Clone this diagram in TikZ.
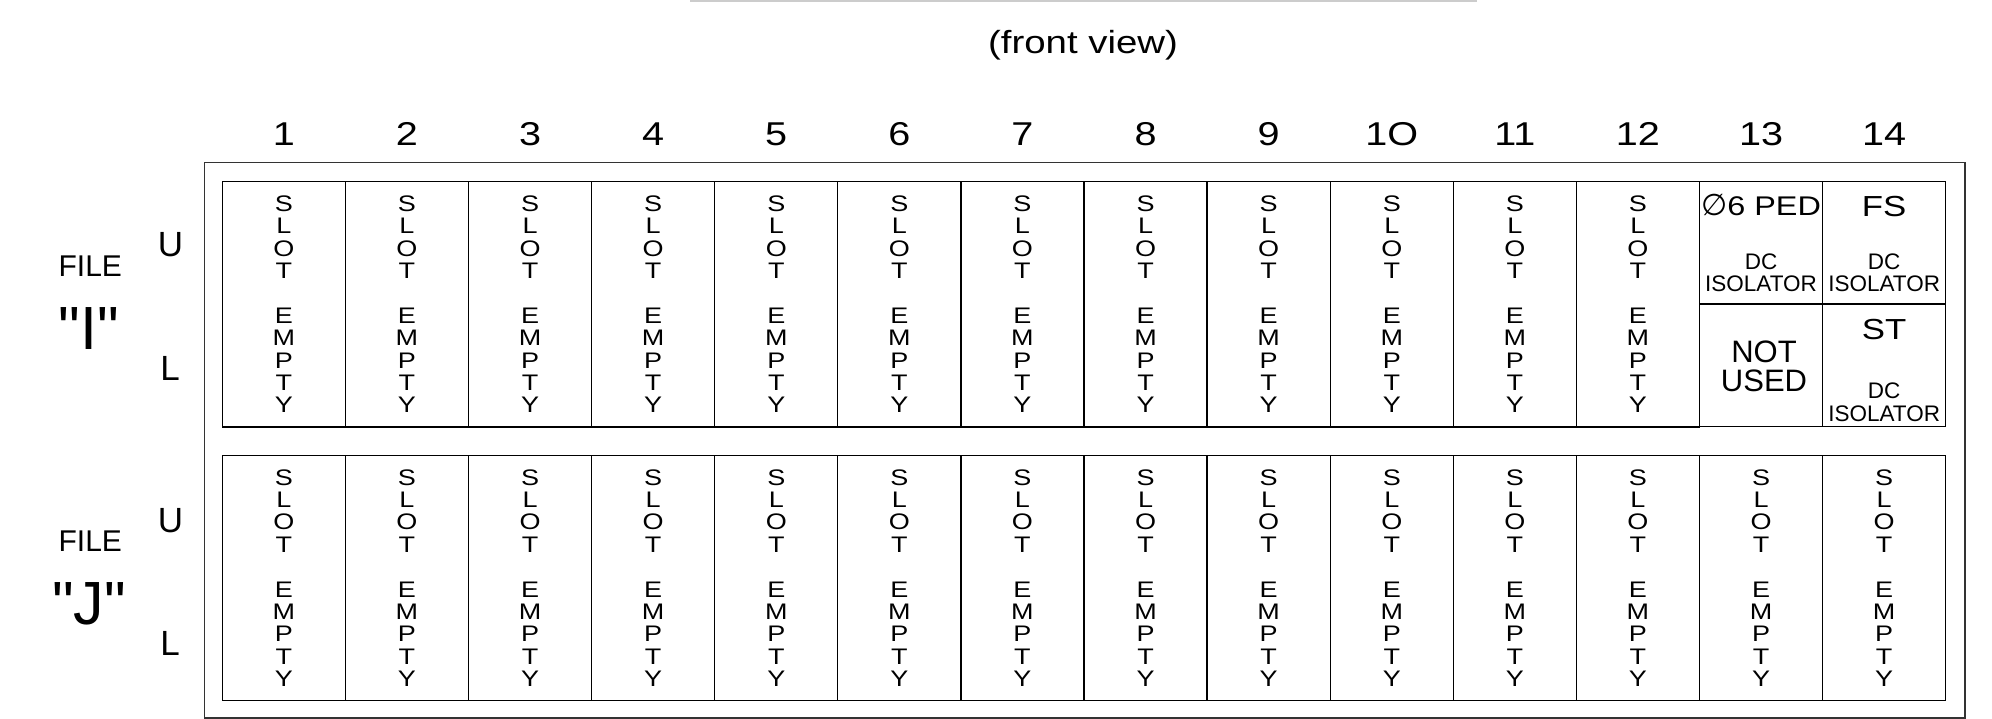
\documentclass[tikz,border=0pt]{standalone}
\usepackage{fontspec}
\setmainfont{Liberation Sans}
\newfontfamily\cadfont[FakeStretch=1.2]{Liberation Sans}
\newfontfamily\plainfont[Ligatures=TeXOff]{Liberation Sans}
\newfontfamily\symbfont{DejaVu Sans}
\usepackage{tikz}
\usetikzlibrary{positioning}

\begin{document}
\begin{tikzpicture}[
  x=1pt, y=-1pt,
  frame/.style={draw=black!80, line width=1.4pt},
  slot/.style={draw, line width=1.3pt, minimum width=123.1pt, minimum height=245.5pt, inner sep=0pt, align=center, font=\cadfont\fontsize{22.5}{22.36}\selectfont},
  half/.style={draw, line width=1.3pt, minimum width=123.1pt, minimum height=122.6pt, inner sep=0pt},
  lbl/.style={inner sep=0pt, anchor=base},
  num/.style={lbl, font=\cadfont\fontsize{33}{33}\selectfont},
  small/.style={lbl, font=\fontsize{22.5}{22}\selectfont},
  mid/.style={lbl, font=\cadfont\fontsize{27}{27}\selectfont},
  big/.style={lbl, font=\fontsize{30}{30}\selectfont},
  side/.style={lbl, font=\fontsize{35}{35}\selectfont},
  filename/.style={lbl, font=\plainfont\fontsize{61}{61}\selectfont}
]
  \useasboundingbox (0,0) rectangle (1992,719);

  % Title
  \draw[gray!40, line width=2pt] (690,1) -- (1477,1);
  \node[lbl, font=\cadfont\fontsize{32}{32}\selectfont] (title) at (1083,54) {(front view)};

  % Slot numbers
  \foreach \c/\t in {1/1,2/2,3/3,4/4,5/5,6/6,7/7,8/8,9/9,10/1O,11/11,12/12,13/13,14/14} {
    \pgfmathsetmacro\xc{222.3+123.1*(\c-0.5)}
    \node[num] (n\c) at (\xc,146) {\t};
  }

  % Cabinet frame
  \draw[frame] (204.3,162.7) rectangle (1965,718);

  % File I
  \foreach \c in {1,...,12} {
    \pgfmathsetmacro\xc{222.3+123.1*(\c-0.5)}
    \node[slot] (I-\c) at (\xc,304.35) {S\\L\\O\\T\\[22.36pt]E\\M\\P\\T\\Y};
  }
  \node[half] (I-13u) at (1761.05,242.85) {};
  \node[half] (I-13l) at (1761.05,365.45) {};
  \node[half] (I-14u) at (1884.15,242.85) {};
  \node[half] (I-14l) at (1884.15,365.45) {};

  \node[mid] (ped) at (1761.05,216) {{\symbfont\fontsize{30}{30}\selectfont ∅}6 PED};
  \node[small] (dc13) at (1761.05,269.5) {DC};
  \node[small] (iso13) at (1761.05,291.7) {ISOLATOR};
  \node[big, font=\fontsize{31}{31}\selectfont] (notu) at (1764,362.5) {NOT};
  \node[big, font=\fontsize{31}{31}\selectfont] (used) at (1764,391) {USED};

  \node[mid, font=\cadfont\fontsize{29}{29}\selectfont] (fs) at (1884.15,217) {FS};
  \node[small] (dc14u) at (1884.15,269.5) {DC};
  \node[small] (iso14u) at (1884.15,291.7) {ISOLATOR};
  \node[mid, font=\cadfont\fontsize{29}{29}\selectfont] (st) at (1884.15,339) {ST};
  \node[small] (dc14l) at (1884.15,398) {DC};
  \node[small] (iso14l) at (1884.15,421) {ISOLATOR};

  % File J
  \foreach \c in {1,...,14} {
    \pgfmathsetmacro\xc{222.3+123.1*(\c-0.5)}
    \node[slot] (J-\c) at (\xc,578) {S\\L\\O\\T\\[22.36pt]E\\M\\P\\T\\Y};
  }

  % Side labels
  \node[big] (fileI) at (90.3,276.7) {FILE};
  \node[filename] (nameI) at (88.7,349.3) {"I"};
  \node[side] (uI) at (170.5,257) {U};
  \node[side] (lI) at (170,380) {L};

  \node[big] (fileJ) at (90.3,551) {FILE};
  \node[filename] (nameJ) at (89,624) {"J"};
  \node[side] (uJ) at (170.5,532) {U};
  \node[side] (lJ) at (170,655) {L};
\end{tikzpicture}
\end{document}
